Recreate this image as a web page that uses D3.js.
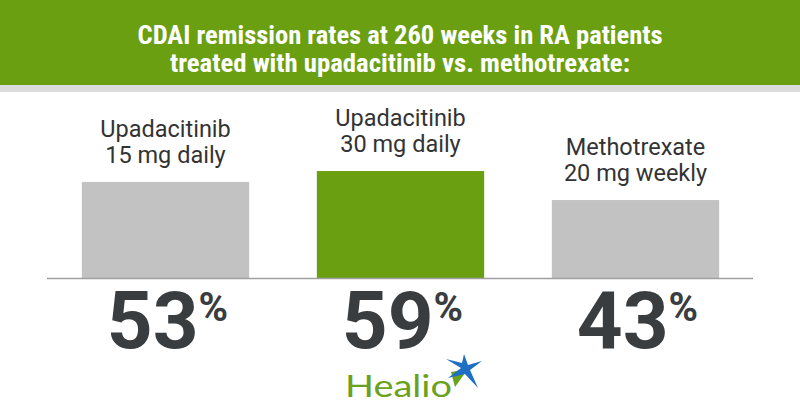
<!DOCTYPE html>
<html>
<head>
<meta charset="utf-8">
<script src="https://cdn.jsdelivr.net/npm/d3@7"></script>
<style>
  html, body { margin: 0; padding: 0; background: #fff; }
  svg { display: block; }
</style>
</head>
<body>
<script>
"use strict";

// Remission rates
const drugs = ["Upadacitinib", "Upadacitinib", "Methotrexate"];
const doses = ["15 mg daily", "30 mg daily", "20 mg weekly"];
const rates = [53, 59, 43];
const highlight = [false, true, false];
const titleLines = [
  "CDAI remission rates at 260 weeks in RA patients",
  "treated with upadacitinib vs. methotrexate:"
];

const width = 800, height = 420;
const green = "#6b9f12", grey = "#c2c2c2", ink = "#3a3d3f";

let svg = d3.select("body").append("svg")
    .attr("width", width)
    .attr("height", height);

// header band
svg.append("rect").attr("width", width).attr("height", 92).attr("fill", "#dcdcdc");
svg.append("rect").attr("width", width).attr("height", 85).attr("fill", green);

svg.append("g")
  .selectAll("text")
  .data(titleLines)
  .enter().append("text")
    .attr("x", width / 2)
    .attr("y", (d, i) => 44 + i * 28)
    .attr("text-anchor", "middle")
    .attr("fill", "#fff")
    .attr("font-family", "'Roboto Condensed', 'Liberation Sans Narrow', 'DejaVu Sans Condensed', sans-serif")
    .attr("font-weight", "bold")
    .attr("font-size", 25)
    .attr("textLength", (d, i) => i === 0 ? 525 : 460)
    .attr("lengthAdjust", "spacingAndGlyphs")
    .text(d => d);

let x = d3.scaleBand()
    .domain(d3.range(rates.length))
    .range([48, 753])
    .paddingInner(0.288)
    .paddingOuter(0.144);

let y = d3.scaleLinear()
    .domain([0, 100])
    .range([278, 96.7]);

let bars = svg.append("g")
    .selectAll("g")
    .data(rates)
    .enter().append("g")
    .attr("transform", (d, i) => "translate(" + x(i) + ",0)");

bars.append("rect")
  .attr("y", d => y(d))
  .attr("width", x.bandwidth())
  .attr("height", d => y(0) - y(d))
  .attr("fill", (d, i) => highlight[i] ? green : grey);

// two line category label above each bar
let label = bars.append("text")
  .attr("text-anchor", "middle")
  .attr("fill", "#333")
  .attr("font-family", "Roboto, sans-serif")
  .attr("font-size", 23.5);
label.append("tspan")
  .attr("x", x.bandwidth() / 2)
  .attr("y", d => y(d) - 45)
  .text((d, i) => drugs[i]);
label.append("tspan")
  .attr("x", x.bandwidth() / 2)
  .attr("y", d => y(d) - 19)
  .text((d, i) => doses[i]);

// baseline
svg.append("line")
  .attr("x1", x.range()[0] - 1)
  .attr("x2", x.range()[1])
  .attr("y1", y(0) + 0.5)
  .attr("y2", y(0) + 0.5)
  .attr("stroke", "#a0a0a0")
  .attr("stroke-width", 1.5);

// big value labels under the baseline
let value = bars.append("text")
  .attr("x", x.bandwidth() / 2 + 2)
  .attr("y", 348)
  .attr("text-anchor", "middle")
  .attr("fill", ink)
  .attr("font-family", "Roboto, sans-serif")
  .attr("font-weight", "bold");
value.append("tspan")
  .attr("font-size", 80)
  .text(d => d);
value.append("tspan")
  .attr("font-size", 40)
  .attr("dx", 0)
  .attr("dy", -27)
  .text("%");

// Healio logo
let logo = svg.append("g");
logo.append("text")
  .attr("x", 345)
  .attr("y", 397)
  .attr("fill", "#6aa121")
  .attr("font-family", "Lato, 'Open Sans', sans-serif")
  .attr("font-size", 31)
  .attr("textLength", 107)
  .attr("lengthAdjust", "spacingAndGlyphs")
  .text("Healio");
logo.append("path")
  .attr("d", "M455,387 L468,369 L451,372 Z")
  .attr("fill", "#6aa121");
logo.append("path")
  .attr("d", "M464,354 L468,365 L482,361 L470,370 L478,388 L465,374 L448,378 L461,368 L446,359 L462,363 Z")
  .attr("fill", "#1f6fc2");
</script>
</body>
</html>
